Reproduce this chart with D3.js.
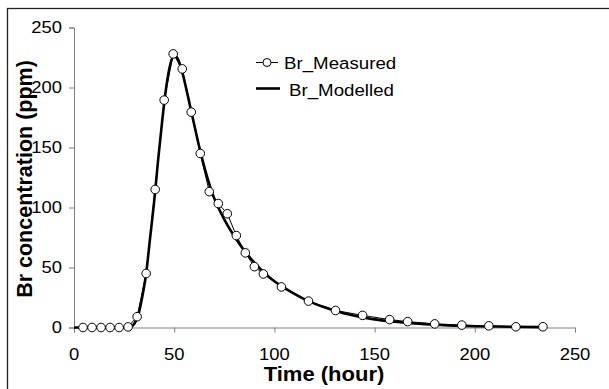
<!DOCTYPE html>
<html>
<head>
<meta charset="utf-8">
<script src="https://cdn.jsdelivr.net/npm/d3@7"></script>
<style>
  body { margin: 0; background: #fff; }
  text { font-family: "Liberation Sans", Arial, sans-serif; fill: #000; }
</style>
</head>
<body>
<div id="chart"></div>
<script>
// measured Br (every 4.5 h, then sparser)
const measuredTime = [4.5, 9, 13.5, 18, 22.5, 27, 31.5, 36, 40.5, 45, 49.5, 54, 58.5, 63, 67.5,
    72, 76.5, 81, 85.5, 90, 94.5, 103.5, 117, 130.5, 144, 157.5, 166.5, 180, 193.5, 207, 220.5, 234];
const measuredBr = [0, 0, 0, 0, 0, 0.5, 9, 45, 115, 189.5, 228, 215.5, 179.5, 145, 113.2,
    103.3, 94.8, 76.6, 62.2, 50.7, 44.6, 33.8, 22, 14.2, 10.1, 6.6, 4.9, 3, 2, 1.4, 0.6, 0.6];

// modelled Br curve
const modelTime = [0, 25, 28, 30, 32, 34, 36, 38, 40, 42, 44, 46, 48, 50, 52, 54, 56, 58, 60,
    63, 66, 69, 72, 76, 80, 85, 90, 95, 100, 105, 110, 117, 125, 131, 140, 150, 160, 170, 180,
    195, 210, 235];
const modelBr = [0, 0, 0.3, 3, 10, 25, 45, 75, 105, 140, 172, 200, 219, 227, 223, 213, 199, 184,
    169, 147, 128, 112, 100, 87, 76, 64, 54, 45.5, 38.5, 33, 28, 22, 16.8, 13.5, 9.8, 6.8, 4.8,
    3.4, 2.3, 1.3, 0.8, 0.3];

const xTicks = [0, 50, 100, 150, 200, 250];
const yTicks = [0, 50, 100, 150, 200, 250];

const W = 609, H = 389;
const x = d3.scaleLinear().domain([0, 250]).range([74, 575]);
const y = d3.scaleLinear().domain([0, 250]).range([327.5, 27.5]);
const sx = 1.15; // text is a bit wider than tall in the picture

const svg = d3.select('#chart').append('svg')
    .attr('width', W)
    .attr('height', H);

svg.append('rect')
    .attr('x', 7.5).attr('y', 8.5)
    .attr('width', 640).attr('height', 420)
    .attr('fill', 'none')
    .attr('stroke', '#222')
    .attr('stroke-width', 1.3);

// axes
const axisColor = '#808080';
const gx = svg.append('g')
    .attr('transform', `translate(0,${y(0)})`)
    .call(d3.axisBottom(x).tickValues(xTicks).tickSize(5).tickFormat(''));
const gy = svg.append('g')
    .attr('transform', `translate(${x(0)},0)`)
    .call(d3.axisLeft(y).tickValues(yTicks).tickSize(5).tickFormat(''));
[gx, gy].forEach(g => {
    g.select('.domain').attr('stroke', axisColor).attr('stroke-width', 1);
    g.selectAll('.tick line').attr('stroke', axisColor);
});

svg.selectAll('.xlab')
    .data(xTicks)
    .enter()
    .append('text')
    .attr('class', 'xlab')
    .attr('transform', d => `translate(${x(d)},360) scale(${sx},1)`)
    .attr('text-anchor', 'middle')
    .attr('font-size', 16)
    .text(d => d);

svg.selectAll('.ylab')
    .data(yTicks)
    .enter()
    .append('text')
    .attr('class', 'ylab')
    .attr('transform', d => `translate(62,${y(d) + 5.5}) scale(${sx},1)`)
    .attr('text-anchor', 'end')
    .attr('font-size', 16)
    .text(d => d);

// axis titles
svg.append('text')
    .attr('transform', `translate(324,380.5) scale(1.13,1)`)
    .attr('text-anchor', 'middle')
    .attr('font-size', 19.5)
    .attr('font-weight', 'bold')
    .text('Time (hour)');

svg.append('text')
    .attr('transform', `translate(32,179) rotate(-90)`)
    .attr('text-anchor', 'middle')
    .attr('font-size', 21.5)
    .attr('font-weight', 'bold')
    .text('Br concentration (ppm)');

// lines
const modelLine = d3.line()
    .x((d, i) => x(modelTime[i]))
    .y(d => y(d))
    .curve(d3.curveMonotoneX);

svg.append('path')
    .datum(modelBr)
    .attr('d', modelLine)
    .attr('fill', 'none')
    .attr('stroke', '#000')
    .attr('stroke-width', 2.6);

const measLine = d3.line()
    .x((d, i) => x(measuredTime[i]))
    .y(d => y(d));

svg.append('path')
    .datum(measuredBr)
    .attr('d', measLine)
    .attr('fill', 'none')
    .attr('stroke', '#000')
    .attr('stroke-width', 1);

svg.selectAll('.pt')
    .data(measuredBr)
    .enter()
    .append('circle')
    .attr('class', 'pt')
    .attr('cx', (d, i) => x(measuredTime[i]))
    .attr('cy', d => y(d))
    .attr('r', 4.3)
    .attr('fill', '#fff')
    .attr('stroke', '#000')
    .attr('stroke-width', 1);

// legend
const lg = svg.append('g');
lg.append('line')
    .attr('x1', 256).attr('x2', 278)
    .attr('y1', 62.5).attr('y2', 62.5)
    .attr('stroke', '#000').attr('stroke-width', 1);
lg.append('circle')
    .attr('cx', 267).attr('cy', 62.5).attr('r', 4)
    .attr('fill', '#fff').attr('stroke', '#000');
lg.append('text')
    .attr('transform', `translate(284,68.5) scale(1.1,1)`)
    .attr('font-size', 17)
    .text('Br_Measured');
lg.append('line')
    .attr('x1', 256).attr('x2', 280)
    .attr('y1', 88.5).attr('y2', 88.5)
    .attr('stroke', '#000').attr('stroke-width', 2.6);
lg.append('text')
    .attr('transform', `translate(289,96) scale(1.1,1)`)
    .attr('font-size', 17)
    .text('Br_Modelled');
</script>
</body>
</html>
